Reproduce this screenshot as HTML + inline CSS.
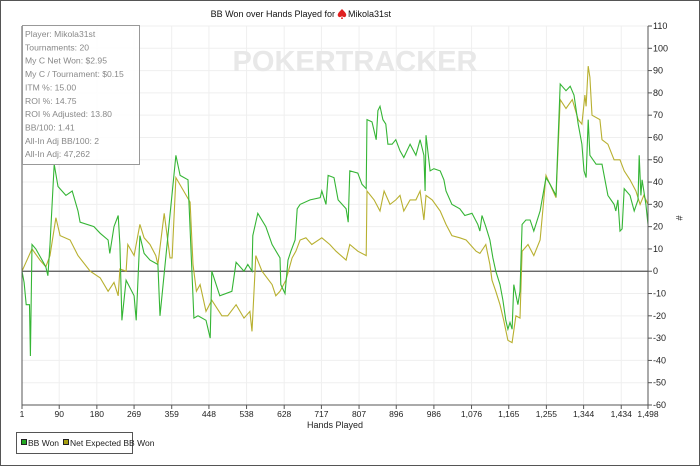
<!DOCTYPE html>
<html><head><meta charset="utf-8"><style>
body{margin:0;width:700px;height:466px;overflow:hidden;background:#fff;font-family:"Liberation Sans",sans-serif}
#frame{position:absolute;left:0;top:0;width:698px;height:464px;border:1px solid #555}
</style></head><body>
<div id="frame"></div>
<svg id="chart" width="700" height="466" style="position:absolute;left:0;top:0"></svg>
<script>
const greenHands=[1,6,11,19,21,25,34,49,58,63,68,78,87,106,121,135,140,173,188,207,211,221,231,235,240,250,269,274,283,293,307,326,331,369,379,398,412,422,441,451,455,474,503,513,532,541,551,553,565,584,599,618,620,630,637,644,654,659,666,690,714,718,728,733,747,757,776,781,785,804,814,824,826,838,848,852,857,864,871,876,886,895,905,914,929,943,953,962,965,967,977,986,1001,1010,1015,1029,1048,1060,1077,1091,1096,1101,1110,1120,1127,1134,1144,1151,1158,1163,1168,1173,1177,1187,1192,1197,1206,1216,1225,1240,1254,1264,1278,1288,1302,1312,1321,1331,1340,1345,1350,1355,1359,1374,1388,1402,1417,1421,1426,1431,1436,1441,1455,1465,1474,1477,1481,1484,1493,1498];
const greenValues=[0,-5,-15,-15,-38,12,10,5,2,-2,12,48,38,34,36,27,22,20,17,14,8,20,25,12,-22,-4,-11,-22,16,8,5,3,-20,52,43,41,-21,-20,-22,-30,0,-11,-9,4,0,3,0,16,26,20,12,6,-6,-10,5,9,14,28,30,32,33,36,30,43,42,32,28,22,45,44,39,37,68,67,59,72,74,68,66,57,57,59,54,51,57,52,59,52,36,61,45,46,45,41,36,30,28,25,26,21,18,25,20,14,6,0,-6,-13,-22,-26,-23,-26,-6,-15,-9,21,23,23,18,27,42,39,34,84,81,83,79,66,57,45,42,68,52,48,48,34,30,27,32,18,19,37,34,27,32,52,34,41,30,21];
const xevHands=[1,25,44,58,68,82,92,116,135,164,188,207,221,231,235,250,254,269,283,293,307,321,326,341,355,360,369,403,410,418,427,441,455,479,493,513,532,546,551,560,575,599,608,618,632,647,656,666,680,694,718,737,752,776,785,804,824,826,843,857,867,881,895,905,914,929,943,953,962,967,982,1001,1015,1029,1048,1063,1087,1096,1110,1120,1125,1134,1144,1153,1163,1173,1182,1192,1197,1211,1225,1240,1254,1278,1288,1302,1317,1331,1340,1347,1350,1355,1359,1364,1383,1388,1402,1417,1431,1441,1455,1469,1479,1488,1498];
const xevValues=[0,10,5,2,7,24,16,14,7,0,-3,-9,-5,-11,1,0,12,7,21,15,12,7,3,26,6,6,42,31,3,-9,-6,-18,-13,-20,-20,-15,-21,-18,-27,7,0,-6,-11,-9,-4,6,9,14,15,12,15,12,9,5,12,9,7,36,32,27,36,30,32,34,27,32,32,36,23,34,32,27,21,16,15,14,9,8,12,3,-4,-9,-15,-22,-31,-32,-20,-21,9,12,7,14,43,33,77,73,77,68,66,79,74,92,87,70,68,59,57,50,50,45,41,36,30,34,30];
const xTicks=[1,90,180,269,359,448,538,628,717,807,896,986,1076,1165,1255,1344,1434,1498];
const xTickLabels=["1","90","180","269","359","448","538","628","717","807","896","986","1,076","1,165","1,255","1,344","1,434","1,498"];
const yTicks=[110,100,90,80,70,60,50,40,30,20,10,0,-10,-20,-30,-40,-50,-60];

const svg=document.getElementById('chart');
const NS='http://www.w3.org/2000/svg';
const L=22,R=648,T=26,B=405,xMin=1,xMax=1498,yMin=-60,yMax=110;
const xs=v=>L+(v-xMin)/(xMax-xMin)*(R-L);
const ys=v=>B-(v-yMin)/(yMax-yMin)*(B-T);
function mk(tag,attrs,parent){const e=document.createElementNS(NS,tag);for(const k in attrs)e.setAttribute(k,attrs[k]);(parent||svg).appendChild(e);return e;}

const grid=mk('g',{});


yTicks.forEach(v=>{const l=mk('line',{x1:L,x2:R,y1:ys(v),y2:ys(v),stroke:'#efefef','stroke-width':1},grid);});
xTicks.forEach(v=>{const l=mk('line',{x1:xs(v),x2:xs(v),y1:T,y2:B,stroke:'#efefef','stroke-width':1},grid);});

const wm=mk('text',{x:355,y:71,'text-anchor':'middle','font-size':29,'font-weight':'bold',fill:'#e8e8e8','font-family':'Liberation Sans, sans-serif'});
wm.textContent='POKERTRACKER';



const zl=mk('line',{x1:L,x2:R,y1:ys(0),y2:ys(0),stroke:'#555','stroke-width':1.2});



function series(h,v,color,name){const d=h.map((x,i)=>(i?'L':'M')+xs(x).toFixed(1)+','+ys(v[i]).toFixed(1)).join('');const p=mk('path',{d:d,fill:'none',stroke:color,'stroke-width':1.1});}
series(xevHands,xevValues,'#b8b030','net-expected-bb-won-line');
series(greenHands,greenValues,'#35b535','bb-won-line');

const ax=mk('g',{});


mk('line',{x1:L,x2:L,y1:T,y2:B,stroke:'#555'},ax);
mk('line',{x1:R,x2:R,y1:T,y2:B,stroke:'#555'},ax);
mk('line',{x1:L,x2:R,y1:B,y2:B,stroke:'#555'},ax);
yTicks.forEach(v=>{mk('line',{x1:R,x2:R+4,y1:ys(v),y2:ys(v),stroke:'#555'},ax);const t=mk('text',{x:R+5,y:ys(v)+3,'font-size':9,fill:'#222'},ax);t.textContent=v;});
xTicks.forEach((v,i)=>{mk('line',{x1:xs(v),x2:xs(v),y1:B,y2:B+4,stroke:'#555'},ax);const t=mk('text',{x:xs(v),y:B+12,'font-size':8.5,fill:'#222','text-anchor':'middle'},ax);t.textContent=xTickLabels[i];});
const xt=mk('text',{x:335,y:428,'font-size':9,fill:'#222','text-anchor':'middle'});
xt.textContent='Hands Played';


const yt=mk('text',{x:676,y:218,'font-size':9,fill:'#222','text-anchor':'middle',transform:'rotate(90 676 218)'});
yt.textContent='#';



const tg=mk('g',{});


const tt=mk('text',{x:335,y:17,'font-size':9,fill:'#111','text-anchor':'end'},tg);
tt.textContent='BB Won over Hands Played for';
mk('path',{d:'M342 9 C339 12 337 14 338 16 C339 18 341 17 342 16 L341 19 L343 19 L342 16 C343 17 345 18 346 16 C347 14 345 12 342 9Z',fill:'#e02020'},tg);
const tt2=mk('text',{x:348,y:17,'font-size':9,fill:'#111'},tg);
tt2.textContent='Mikola31st';

const box=mk('g',{});


mk('rect',{x:22.5,y:25.5,width:117,height:139,fill:'rgba(255,255,255,0.85)',stroke:'#999'},box);
const stats=['Player: Mikola31st','Tournaments: 20','My C Net Won: $2.95','My C / Tournament: $0.15','ITM %: 15.00','ROI %: 14.75','ROI % Adjusted: 13.80','BB/100: 1.41','All-In Adj BB/100: 2','All-In Adj: 47,262'];
stats.forEach((s,i)=>{const t=mk('text',{x:25,y:37+i*13.35,'font-size':8.6,fill:'#888'},box);t.textContent=s;});

const lg=mk('g',{});


mk('rect',{x:16.5,y:432.5,width:116,height:21,fill:'#fff',stroke:'#555'},lg);
mk('rect',{x:21.5,y:439.5,width:5,height:5,fill:'#22a822',stroke:'#222'},lg);
const l1=mk('text',{x:28,y:446,'font-size':8.5,fill:'#222'},lg);l1.textContent='BB Won';


mk('rect',{x:63.5,y:439.5,width:5,height:5,fill:'#a8a010',stroke:'#222'},lg);
const l2=mk('text',{x:70,y:446,'font-size':8.5,fill:'#222'},lg);l2.textContent='Net Expected BB Won';


</script>
</body></html>
